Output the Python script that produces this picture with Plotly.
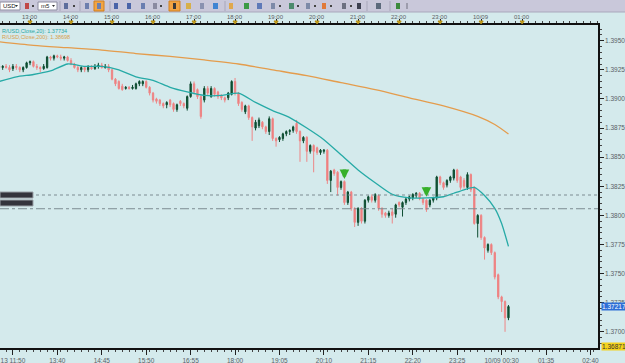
import plotly.graph_objects as go

# ---------------- data (EUR/USD, M5) ----------------
bar_index = list(range(150))

open_ = [1.3928,1.3927,1.3928,1.3927,1.3926,1.3928,1.3927,1.3925,1.3927,1.3931,
         1.3932,1.3928,1.3927,1.3926,1.3927,1.3936,1.3935,1.3937,1.3936,1.3935,
         1.3936,1.3933,1.3930,1.3927,1.3925,1.3927,1.3925,1.3927,1.3926,1.3928,
         1.3929,1.3927,1.3928,1.3925,1.3917,1.3915,1.3911,1.3909,1.3910,1.3909,
         1.3909,1.3913,1.3913,1.3915,1.3910,1.3905,1.3900,1.3899,1.3896,1.3895,
         1.3899,1.3896,1.3891,1.3898,1.3896,1.3892,1.3902,1.3913,1.3908,1.3902,
         1.3899,1.3909,1.3902,1.3909,1.3906,1.3903,1.3901,1.3901,1.3904,1.3915,
         1.3905,1.3897,1.3889,1.3894,1.3884,1.3875,1.3877,1.3880,1.3876,1.3872,
         1.3883,1.3866,1.3865,1.3866,1.3870,1.3872,1.3873,1.3879,1.3872,1.3864,
         1.3867,1.3855,1.3860,1.3858,1.3854,1.3855,1.3856,1.3830,1.3839,1.3837,
         1.3824,1.3829,1.3811,1.3820,1.3806,1.3794,1.3806,1.3795,1.3813,1.3816,
         1.3813,1.3817,1.3806,1.3802,1.3800,1.3803,1.3801,1.3811,1.3807,1.3811,
         1.3814,1.3815,1.3817,1.3819,1.3814,1.3813,1.3809,1.3813,1.3815,1.3833,
         1.3828,1.3826,1.3830,1.3832,1.3839,1.3833,1.3830,1.3824,1.3835,1.3824,
         1.3793,1.3800,1.3781,1.3770,1.3775,1.3768,1.3749,1.3730,1.3726,1.3712]

high = [1.3930,1.3929,1.3930,1.3929,1.3930,1.3930,1.3928,1.3928,1.3932,1.3933,
        1.3933,1.3930,1.3928,1.3930,1.3937,1.3937,1.3938,1.3938,1.3938,1.3937,
        1.3937,1.3935,1.3931,1.3929,1.3928,1.3928,1.3929,1.3929,1.3930,1.3931,
        1.3931,1.3930,1.3930,1.3926,1.3918,1.3916,1.3913,1.3911,1.3911,1.3912,
        1.3914,1.3916,1.3916,1.3916,1.3911,1.3906,1.3901,1.3900,1.3897,1.3898,
        1.3900,1.3897,1.3896,1.3899,1.3897,1.3903,1.3915,1.3915,1.3909,1.3903,
        1.3911,1.3911,1.3911,1.3910,1.3907,1.3904,1.3902,1.3906,1.3916,1.3918,
        1.3906,1.3898,1.3895,1.3895,1.3885,1.3882,1.3884,1.3881,1.3877,1.3885,
        1.3884,1.3867,1.3868,1.3871,1.3873,1.3874,1.3877,1.3882,1.3873,1.3868,
        1.3868,1.3861,1.3861,1.3859,1.3857,1.3857,1.3857,1.3839,1.3840,1.3838,
        1.3830,1.3830,1.3821,1.3821,1.3807,1.3807,1.3807,1.3814,1.3817,1.3818,
        1.3819,1.3818,1.3807,1.3803,1.3804,1.3806,1.3810,1.3812,1.3812,1.3815,
        1.3817,1.3819,1.3820,1.3820,1.3815,1.3814,1.3814,1.3816,1.3834,1.3834,
        1.3829,1.3831,1.3834,1.3840,1.3840,1.3834,1.3832,1.3837,1.3836,1.3825,
        1.3801,1.3801,1.3782,1.3776,1.3776,1.3769,1.3750,1.3731,1.3727,1.3723]

low = [1.3925,1.3925,1.3926,1.3923,1.3924,1.3925,1.3923,1.3923,1.3926,1.3929,
       1.3927,1.3925,1.3923,1.3925,1.3926,1.3933,1.3933,1.3935,1.3933,1.3933,
       1.3932,1.3929,1.3926,1.3923,1.3923,1.3923,1.3923,1.3925,1.3925,1.3926,
       1.3926,1.3926,1.3923,1.3916,1.3911,1.3908,1.3907,1.3908,1.3908,1.3908,
       1.3908,1.3911,1.3911,1.3909,1.3903,1.3897,1.3896,1.3894,1.3892,1.3892,
       1.3893,1.3889,1.3889,1.3894,1.3892,1.3890,1.3901,1.3904,1.3900,1.3883,
       1.3897,1.3903,1.3901,1.3902,1.3900,1.3899,1.3897,1.3899,1.3903,1.3903,
       1.3894,1.3889,1.3887,1.3882,1.3864,1.3873,1.3875,1.3874,1.3870,1.3869,
       1.3864,1.3859,1.3863,1.3864,1.3868,1.3869,1.3871,1.3870,1.3846,1.3862,
       1.3846,1.3853,1.3837,1.3852,1.3852,1.3853,1.3827,1.3820,1.3834,1.3817,
       1.3822,1.3809,1.3809,1.3804,1.3790,1.3791,1.3793,1.3793,1.3811,1.3811,
       1.3811,1.3804,1.3798,1.3798,1.3798,1.3793,1.3798,1.3807,1.3799,1.3809,
       1.3812,1.3813,1.3815,1.3813,1.3809,1.3803,1.3807,1.3811,1.3813,1.3826,
       1.3822,1.3824,1.3828,1.3830,1.3828,1.3822,1.3823,1.3822,1.3820,1.3792,
       1.3781,1.3779,1.3762,1.3768,1.3766,1.3745,1.3728,1.3717,1.3700,1.3710]

close = [1.3927,1.3928,1.3927,1.3925,1.3928,1.3927,1.3925,1.3927,1.3931,1.3932,
         1.3928,1.3927,1.3926,1.3928,1.3936,1.3935,1.3937,1.3936,1.3935,1.3936,
         1.3933,1.3930,1.3927,1.3925,1.3927,1.3925,1.3927,1.3926,1.3928,1.3929,
         1.3927,1.3928,1.3925,1.3917,1.3913,1.3909,1.3908,1.3910,1.3909,1.3910,
         1.3913,1.3915,1.3915,1.3910,1.3905,1.3899,1.3898,1.3896,1.3894,1.3897,
         1.3895,1.3891,1.3895,1.3896,1.3894,1.3902,1.3913,1.3906,1.3902,1.3885,
         1.3909,1.3905,1.3909,1.3904,1.3902,1.3901,1.3899,1.3905,1.3915,1.3905,
         1.3896,1.3891,1.3894,1.3884,1.3876,1.3880,1.3882,1.3876,1.3872,1.3883,
         1.3866,1.3864,1.3867,1.3870,1.3872,1.3873,1.3876,1.3872,1.3864,1.3867,
         1.3855,1.3860,1.3855,1.3854,1.3856,1.3856,1.3830,1.3838,1.3836,1.3824,
         1.3829,1.3811,1.3820,1.3806,1.3794,1.3806,1.3795,1.3813,1.3816,1.3813,
         1.3818,1.3806,1.3801,1.3800,1.3802,1.3800,1.3809,1.3809,1.3811,1.3814,
         1.3816,1.3818,1.3819,1.3815,1.3811,1.3805,1.3813,1.3815,1.3833,1.3828,
         1.3824,1.3830,1.3833,1.3839,1.3830,1.3824,1.3825,1.3835,1.3822,1.3793,
         1.3800,1.3781,1.3772,1.3775,1.3768,1.3747,1.3730,1.3726,1.3712,1.37217]

# moving averages (bar index, value)
ma20_idx = [0,5,10,15,20,25,30,35,40,45,50,55,60,65,70,75,80,85,90,95,100,
            105,110,115,120,125,130,133,136,139,142,145,147,149]
ma20_val = [1.3915,1.3919,1.3921,1.3924,1.3930,1.3928,1.3928,1.3925,1.3919,1.3916,
            1.3910,1.3906,1.3903,1.3903,1.3905,1.3897,1.3890,1.3884,1.3875,1.3865,
            1.3852,1.3839,1.3828,1.3818,1.3815,1.3815,1.3816,1.3819,1.3822,1.3824,
            1.3817,1.3806,1.3793,1.37734]
ma200_idx = [0,10,20,30,40,50,60,70,80,90,100,110,120,130,140,145,149]
ma200_val = [1.3949,1.3946,1.3944,1.3942,1.3939,1.39365,1.39335,1.3930,1.3925,
             1.3920,1.3914,1.3908,1.3901,1.3894,1.3885,1.3878,1.38698]

# horizontal levels and signal arrows
level_dotted = 1.38175
level_dashdot = 1.38057
arrow_idx = [101, 125]
arrow_tip = [1.38312, 1.38160]

# axis labels
price_ticks = [1.3700,1.3725,1.3750,1.3775,1.3800,1.3825,1.3850,1.3875,1.3900,1.3925,1.3950]
bid_price = 1.37217
bottom_price = 1.36871
top_tick_idx = [9,21,33,45,57,69,81,93,105,117,129,141,153]
top_tick_txt = ["13:00","14:00","15:00","16:00","17:00","18:00","19:00","20:00",
                "21:00","22:00","23:00","10/09","01:00"]
bot_tick_idx = [4,17,30,43,56,69,82,95,108,121,134,147,160,173]
bot_tick_txt = ["13 11:50","13:40","14:45","15:50","16:55","18:00","19:05",
                "20:10","21:15","22:20","23:25","10/09 00:30","01:35","02:40"]
caption_ma20 = "R/USD,Close,20): 1.37734"
caption_ma200 = "R/USD,Close,200): 1.38698"

# ---------------- styling ----------------
BG = "#d4eaec"
BAR_BG = "#c9c8da"
TXT = "#5a6066"
FONT = "Liberation Sans"
W, H = 625, 363
L, R, T, B = 0, 27, 25, 15
PW, PH = W - L - R, H - T - B


def px(x):
    return (x - L) / PW


def py(y):
    return (H - B - y) / PH


fig = go.Figure()

fig.add_trace(go.Scatter(x=ma200_idx, y=ma200_val, mode="lines",
                         line=dict(color="#e49c4c", width=1.3, shape="spline", smoothing=0.8),
                         hoverinfo="skip", showlegend=False))
fig.add_trace(go.Scatter(x=ma20_idx, y=ma20_val, mode="lines",
                         line=dict(color="#26aaa6", width=1.3, shape="spline", smoothing=0.6),
                         hoverinfo="skip", showlegend=False))

fig.add_trace(go.Candlestick(
    x=bar_index, open=open_, high=high, low=low, close=close,
    increasing=dict(line=dict(color="#0e4d31", width=1), fillcolor="#0c5534"),
    decreasing=dict(line=dict(color="#ee8686", width=1), fillcolor="#f07474"),
    whiskerwidth=0, hoverinfo="skip", showlegend=False))

# dummy trace for the top time axis
fig.add_trace(go.Scatter(x=[bar_index[0]], y=[close[0]], xaxis="x2", mode="none",
                         hoverinfo="skip", showlegend=False))

shapes = []
annotations = []

# horizontal levels
shapes.append(dict(type="line", xref="paper", x0=0, x1=1, yref="y",
                   y0=level_dotted, y1=level_dotted,
                   line=dict(color="#7d8c92", width=1, dash="dot")))
shapes.append(dict(type="line", xref="paper", x0=0, x1=1, yref="y",
                   y0=level_dashdot, y1=level_dashdot,
                   line=dict(color="#7d8c92", width=1, dash="dashdot")))

# labels for the levels on the left
for yc in (195, 203):
    shapes.append(dict(type="rect", xref="paper", yref="paper",
                       x0=px(0), x1=px(33), y0=py(yc + 3), y1=py(yc - 3),
                       fillcolor="#34343c", line=dict(color="#9aa0a6", width=1)))

# arrows
for xi, yt in zip(arrow_idx, arrow_tip):
    annotations.append(dict(x=xi, y=yt, xref="x", yref="y", text="", showarrow=True,
                            ax=0, ay=-11, arrowhead=2, arrowsize=0.55, arrowwidth=3.5,
                            arrowcolor="#36b02a"))

# toolbar
shapes.append(dict(type="rect", xref="paper", yref="paper", x0=px(0), x1=px(W),
                   y0=py(12), y1=py(0), fillcolor=BAR_BG, line=dict(width=0), layer="above"))
shapes.append(dict(type="line", xref="paper", yref="paper", x0=px(0), x1=px(W),
                   y0=py(12), y1=py(12), line=dict(color="#a9a8bc", width=1), layer="above"))
# dropdown boxes
for x0, x1, label in [(0, 20, "USD"), (38, 57, "m5")]:
    shapes.append(dict(type="rect", xref="paper", yref="paper", x0=px(x0), x1=px(x1),
                       y0=py(10), y1=py(2), fillcolor="#ffffff",
                       line=dict(color="#8c8ca0", width=1), layer="above"))
    shapes.append(dict(type="path", xref="paper", yref="paper",
                       path=f"M {px(x1-5)},{py(5)} L {px(x1-2)},{py(5)} L {px(x1-3.5)},{py(7)} Z",
                       fillcolor="#333", line=dict(width=0), layer="above"))
    annotations.append(dict(x=px(x0 + 1), y=py(6), xref="paper", yref="paper",
                            text=label, showarrow=False, xanchor="left", yanchor="middle",
                            font=dict(family=FONT, size=6, color="#222")))
# highlighted buttons
for x0, x1 in [(94, 104), (169, 180)]:
    shapes.append(dict(type="rect", xref="paper", yref="paper", x0=px(x0), x1=px(x1),
                       y0=py(11), y1=py(1), fillcolor="#f2a443",
                       line=dict(color="#d08020", width=1), layer="above"))
# icons
icons = [(24, 30, "#c04848"), (63, 69, "#5d6e9c"), (84, 90, "#6d7fae"), (96, 102, "#6d7fae"),
         (113, 119, "#4a64a8"), (126, 132, "#4a64a8"), (140, 146, "#6a7eb0"), (152, 158, "#8a8aa0"),
         (172, 177, "#3a3a3a"), (185, 192, "#d7b04a"), (199, 205, "#8a92b0"), (212, 219, "#3f84d2"),
         (228, 234, "#e0a84c"), (243, 250, "#3c9a44"), (256, 263, "#5f79b8"), (270, 276, "#7d8aa8"),
         (288, 295, "#4c8a6c"), (305, 311, "#7d8aa8"), (321, 327, "#e07a3a"), (341, 347, "#6c7080"),
         (356, 362, "#3c4050"), (375, 382, "#5c6a7c"), (395, 401, "#3c8a3c"), (405, 409, "#9c9cac")]
for x0, x1, col in icons:
    shapes.append(dict(type="rect", xref="paper", yref="paper", x0=px(x0 + 1), x1=px(x1 - 1),
                       y0=py(9), y1=py(3), fillcolor=col, line=dict(width=0), layer="above"))
for xd in [33, 74, 161, 280, 298, 315, 331, 351]:
    shapes.append(dict(type="rect", xref="paper", yref="paper", x0=px(xd - 1), x1=px(xd + 1),
                       y0=py(7), y1=py(5), fillcolor="#444", line=dict(width=0), layer="above"))
for xs in [60, 80, 110, 225, 367, 390]:
    shapes.append(dict(type="line", xref="paper", yref="paper", x0=px(xs), x1=px(xs),
                       y0=py(11), y1=py(1), line=dict(color="#a8a7ba", width=1), layer="above"))

# top time labels and small yellow pins on the top ruler
for xi, txt in zip(top_tick_idx, top_tick_txt):
    annotations.append(dict(x=xi, y=py(17), xref="x", yref="paper", text=txt,
                            showarrow=False, yanchor="middle",
                            font=dict(family=FONT, size=6, color=TXT)))
    shapes.append(dict(type="path", xref="x", yref="paper",
                       path=f"M {xi-0.6},{py(21)} L {xi+0.6},{py(21)} L {xi},{py(24)} Z",
                       fillcolor="#d2aa22", line=dict(color="#b08a10", width=1)))

# indicator captions
annotations.append(dict(x=px(0), y=py(31), xref="paper", yref="paper",
                        text=caption_ma20, showarrow=False,
                        xanchor="left", yanchor="middle",
                        font=dict(family=FONT, size=5.5, color="#2aa6a2")))
annotations.append(dict(x=px(0), y=py(37), xref="paper", yref="paper",
                        text=caption_ma200, showarrow=False,
                        xanchor="left", yanchor="middle",
                        font=dict(family=FONT, size=5.5, color="#d8a04e")))

# price highlights on right axis
annotations.append(dict(x=px(601), y=bid_price, xref="paper", yref="y", text="1.37217",
                        showarrow=False, xanchor="left", yanchor="middle",
                        bgcolor="#2e6fd6", borderpad=0,
                        font=dict(family=FONT, size=6.5, color="#ffffff")))
annotations.append(dict(x=px(601), y=bottom_price, xref="paper", yref="y", text="1.36871",
                        showarrow=False, xanchor="left", yanchor="middle",
                        bgcolor="#f4d21c", borderpad=0,
                        font=dict(family=FONT, size=6.5, color="#333333")))

fig.update_layout(
    width=W, height=H, margin=dict(l=L, r=R, t=T, b=B),
    paper_bgcolor=BG, plot_bgcolor=BG, boxgap=0.45,
    showlegend=False, shapes=shapes, annotations=annotations,
    font=dict(family=FONT, size=7, color=TXT),
    xaxis=dict(range=[0.22, 175.2], rangeslider=dict(visible=False), showgrid=False,
               zeroline=False, tickmode="array", tickvals=bot_tick_idx, ticktext=bot_tick_txt,
               ticks="outside", ticklen=5, tickcolor="#222", tickwidth=1,
               showline=True, linecolor="#111", linewidth=1.5,
               ticklabeloverflow="allow",
               minor=dict(dtick=2, tick0=0, ticks="outside", ticklen=2, tickcolor="#444"),
               tickfont=dict(family=FONT, size=6.5, color=TXT)),
    xaxis2=dict(overlaying="x", side="top", matches="x", showgrid=False, zeroline=False,
                tickmode="array", tickvals=top_tick_idx, showticklabels=False,
                ticks="outside", ticklen=4, tickcolor="#222",
                showline=True, linecolor="#111", linewidth=1.5,
                minor=dict(dtick=2, tick0=1, ticks="outside", ticklen=2, tickcolor="#444")),
    yaxis=dict(range=[1.36861, 1.39635], side="right", showgrid=False, zeroline=False,
               tickmode="array", tickvals=price_ticks,
               ticktext=[f"{v:.4f}" for v in price_ticks],
               ticks="outside", ticklen=4, tickcolor="#222",
               showline=True, linecolor="#111", linewidth=1.5,
               minor=dict(dtick=0.0005, tick0=1.37, ticks="outside", ticklen=2, tickcolor="#444"),
               tickfont=dict(family=FONT, size=6.5, color=TXT)),
)

fig.write_html("out.html")
